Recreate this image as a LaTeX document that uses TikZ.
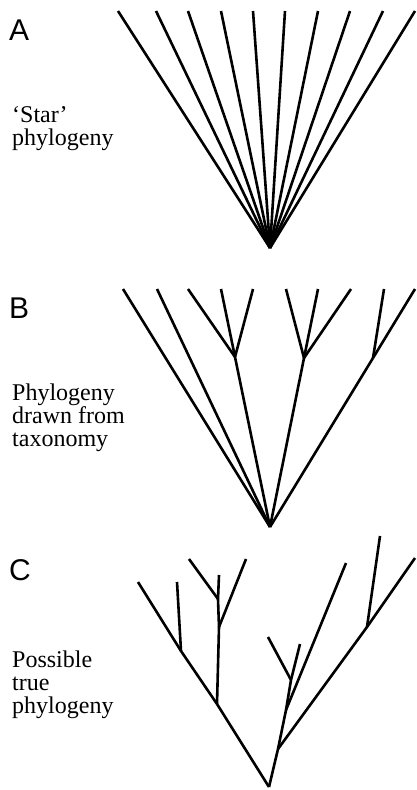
\documentclass[tikz,border=0pt]{standalone}
\usepackage{fontspec}
\setmainfont{Liberation Serif}
\newfontfamily\panelfont{Liberation Sans}
\begin{document}
\begin{tikzpicture}[x=1pt,y=-1pt,
  branch/.style={line width=2.6pt,line cap=butt,line join=miter},
  panel/.style={anchor=base west,inner sep=0pt,font=\panelfont\fontsize{30}{30}\selectfont},
  caption/.style={anchor=base west,inner sep=0pt,align=left,font=\fontsize{24}{23}\selectfont}]
\useasboundingbox (0,0) rectangle (416,790);
% labels
\node[panel] (labA) at (9,40) {A};
\node[panel] (labB) at (9,318) {B};
\node[panel] (labC) at (9,580) {C};
\node[caption] (capA) at (12,145) {‘Star’\\phylogeny};
\node[caption] (capB) at (12,446) {Phylogeny\\drawn from\\taxonomy};
\node[caption] (capC) at (12,713) {Possible\\true\\phylogeny};
% ---------- Panel A ----------
\coordinate (Aroot) at (270,248);
\foreach \x [count=\i] in {118,156,188,221,253,285,318,350,383,415}{
  \coordinate (Aleaf\i) at (\x,11);
  \draw[branch] (Aroot) -- (Aleaf\i);
}
% ---------- Panel B ----------
\coordinate (Broot) at (270,527);
\foreach \x [count=\i] in {123,157,188,221,253,286,318,351,384,415}{
  \coordinate (Bleaf\i) at (\x,289);
}
\coordinate (Bn1) at (235,357);
\coordinate (Bn2) at (304,358);
\coordinate (Bn3) at (373,358);
\draw[branch] (Broot) -- (Bleaf1);
\draw[branch] (Broot) -- (Bleaf2);
\draw[branch] (Broot) -- (Bn1);
\draw[branch] (Broot) -- (Bn2);
\draw[branch] (Broot) -- (Bn3);
\foreach \j in {3,4,5}{\draw[branch] (Bn1) -- (Bleaf\j);}
\foreach \j in {6,7,8}{\draw[branch] (Bn2) -- (Bleaf\j);}
\foreach \j in {9,10}{\draw[branch] (Bn3) -- (Bleaf\j);}
% ---------- Panel C ----------
\coordinate (Croot) at (269,787);
\coordinate (Ca1) at (217,704);
\coordinate (Ca2) at (181,651);
\coordinate (Cl1) at (138,582);
\coordinate (Cl2) at (177,582);
\coordinate (Cb1) at (219,627);
\coordinate (Cb2) at (218,599);
\coordinate (Cl3) at (219,575);
\coordinate (Cl4) at (246,559);
\coordinate (Cl5) at (189,559);
\coordinate (Cr1) at (278,749);
\coordinate (Cr2) at (286,710);
\coordinate (Cr3) at (291,680);
\coordinate (Cl6) at (300,644);
\coordinate (Cl7) at (268,637);
\coordinate (Cl8) at (346,563);
\coordinate (Cr4) at (367,627);
\coordinate (Cl9) at (415,558);
\coordinate (Cl10) at (380,536);
\draw[branch] (Croot) -- (Ca1) -- (Ca2) -- (Cl1);
\draw[branch] (Ca2) -- (Cl2);
\draw[branch] (Ca1) -- (Cb1) -- (Cb2) -- (Cl3);
\draw[branch] (Cb1) -- (Cl4);
\draw[branch] (Cb2) -- (Cl5);
\draw[branch] (Croot) -- (Cr1) -- (Cr2) -- (Cr3) -- (Cl6);
\draw[branch] (Cr3) -- (Cl7);
\draw[branch] (Cr2) -- (Cl8);
\draw[branch] (Cr1) -- (Cr4) -- (Cl9);
\draw[branch] (Cr4) -- (Cl10);
\end{tikzpicture}
\end{document}
